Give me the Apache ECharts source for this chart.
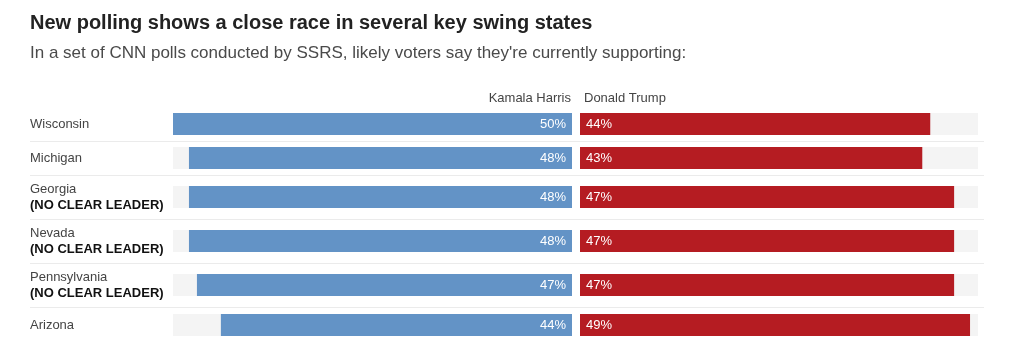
<!DOCTYPE html>
<html>
<head>
<meta charset="utf-8">
<script src="https://cdn.jsdelivr.net/npm/echarts@6/dist/echarts.min.js"></script>
<style>
html,body{margin:0;padding:0;background:#fff;}
#c{width:1024px;height:356px;}
</style>
</head>
<body>
<div id="c"></div>
<script>
// ---- data ----
var states = ['Wisconsin', 'Michigan', 'Georgia', 'Nevada', 'Pennsylvania', 'Arizona'];
var notes = ['', '', '(NO CLEAR LEADER)', '(NO CLEAR LEADER)', '(NO CLEAR LEADER)', ''];
var harris = [50, 48, 48, 48, 47, 44];
var trump = [44, 43, 47, 47, 47, 49];
var candidates = ['Kamala Harris', 'Donald Trump'];
var axisMax = 50;

// ---- layout ----
var rowTops = [113, 147, 186, 230, 274, 314];
var barH = 22;
var sepYs = [141, 175, 219, 263, 307];
var FONT = '"Liberation Sans", Arial, sans-serif';
var blue = '#6393c6', red = '#b51c22', bg = '#f4f4f4';

var grids = [], xAxes = [], yAxes = [], series = [];
states.forEach(function (s, i) {
  grids.push({ left: 173, width: 399, top: rowTops[i], height: barH });
  grids.push({ left: 580, width: 398, top: rowTops[i], height: barH });
  var gi = i * 2;
  xAxes.push({ gridIndex: gi, type: 'value', min: 0, max: axisMax, inverse: true, show: false });
  xAxes.push({ gridIndex: gi + 1, type: 'value', min: 0, max: axisMax, show: false });
  yAxes.push({
    gridIndex: gi, type: 'category', data: [s],
    axisLine: { show: false }, axisTick: { show: false },
    axisLabel: {
      align: 'left', margin: 143,
      formatter: function (v) {
        return notes[i] ? '{n|' + v + '}\n{b|' + notes[i] + '}' : '{n|' + v + '}';
      },
      rich: {
        n: { fontFamily: FONT, fontSize: 13, color: '#444', lineHeight: 16 },
        b: { fontFamily: FONT, fontSize: 13, fontWeight: 'bold', color: '#111', lineHeight: 16 }
      }
    }
  });
  yAxes.push({ gridIndex: gi + 1, type: 'category', data: [s], show: false });
  series.push({
    type: 'bar', name: candidates[0], xAxisIndex: gi, yAxisIndex: gi,
    data: [harris[i]], barWidth: '100%',
    showBackground: true, backgroundStyle: { color: bg },
    itemStyle: { color: blue },
    label: { show: true, position: 'insideRight', distance: 6, color: '#fff',
      fontFamily: FONT, fontSize: 13, formatter: '{c}%' },
    silent: true, animation: false
  });
  series.push({
    type: 'bar', name: candidates[1], xAxisIndex: gi + 1, yAxisIndex: gi + 1,
    data: [trump[i]], barWidth: '100%',
    showBackground: true, backgroundStyle: { color: bg },
    itemStyle: { color: red },
    label: { show: true, position: 'insideLeft', distance: 6, color: '#fff',
      fontFamily: FONT, fontSize: 13, formatter: '{c}%' },
    silent: true, animation: false
  });
});

var graphics = sepYs.map(function (y) {
  return { type: 'line', shape: { x1: 30, y1: y + 0.5, x2: 984, y2: y + 0.5 },
    style: { stroke: '#ebebeb', lineWidth: 1 }, silent: true };
});

var chart = echarts.init(document.getElementById('c'), null, { renderer: 'canvas' });
chart.setOption({
  backgroundColor: '#fff',
  animation: false,
  title: [
    { text: 'New polling shows a close race in several key swing states', left: 30, top: 13, padding: 0,
      textStyle: { fontFamily: FONT, fontSize: 20, fontWeight: 'bold', color: '#222' } },
    { text: "In a set of CNN polls conducted by SSRS, likely voters say they're currently supporting:", left: 30, top: 45, padding: 0,
      textStyle: { fontFamily: FONT, fontSize: 17, fontWeight: 'normal', color: '#4a4a4a' } },
    { text: candidates[0], right: 1024 - 571, top: 92, padding: 0,
      textStyle: { fontFamily: FONT, fontSize: 13, fontWeight: 'normal', color: '#444' } },
    { text: candidates[1], left: 584, top: 92, padding: 0,
      textStyle: { fontFamily: FONT, fontSize: 13, fontWeight: 'normal', color: '#444' } }
  ],
  grid: grids, xAxis: xAxes, yAxis: yAxes, series: series,
  graphic: graphics
});
</script>
</body>
</html>
